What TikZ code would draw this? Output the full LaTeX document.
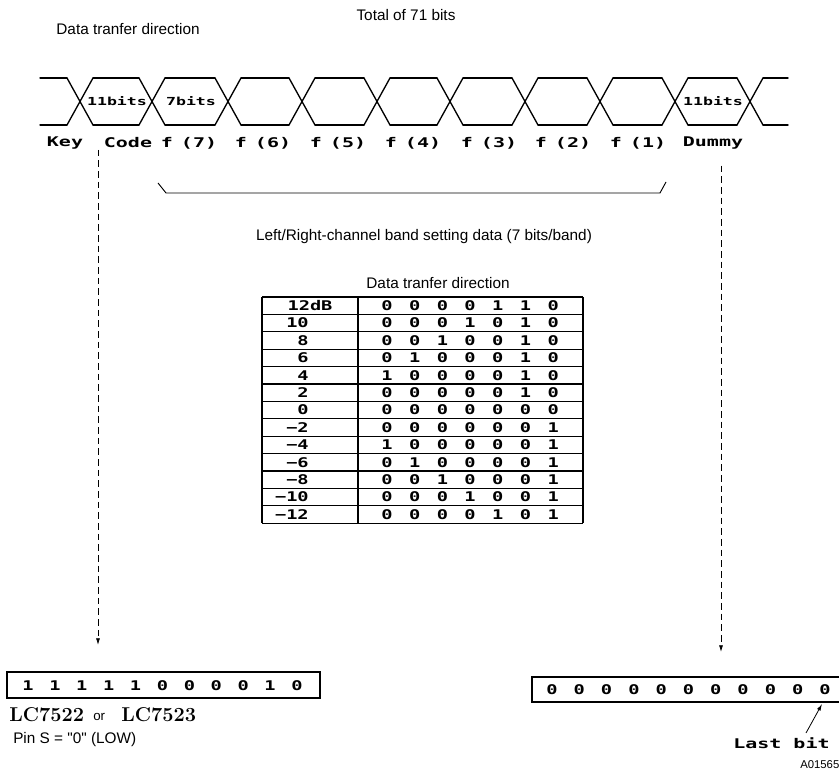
\documentclass[tikz,border=0pt]{standalone}
\usepackage{fontspec}
\newfontfamily\arial{Liberation Sans}
\newfontfamily\monow[FakeStretch=1.5]{DejaVu Sans Mono}
\newfontfamily\monon[FakeStretch=1.4]{DejaVu Sans Mono}
\usetikzlibrary{arrows.meta}
\tikzset{
  wave/.style={line width=1pt, line cap=round},
  lbl/.style={font=\arial\fontsize{11.5}{13}\selectfont, inner sep=0pt},
  monolbl/.style={font=\monow\bfseries\fontsize{10}{12}\selectfont, inner sep=0pt},
  wavelbl/.style={font=\monow\bfseries\fontsize{8.3}{10}\selectfont, inner sep=0pt},
  bitlbl/.style={font=\monon\bfseries\fontsize{10}{12}\selectfont, inner sep=0pt},
  grid/.style={line width=0.9pt},
  dashedarrow/.style={line width=0.6pt, dash pattern=on 5pt off 3pt, -{Latex[length=5pt,width=3pt]}},
}
\begin{document}
\begin{tikzpicture}[x=0.75pt,y=-0.75pt]
\clip (0,0) rectangle (839,773);
\fill[white] (0,0) rectangle (839,773);

% titles
\node[lbl] (total) at (406,15) {Total of 71 bits};
\node[lbl] (dir1) at (128,29) {Data tranfer direction};

% waveform
\foreach \c in {80,152,228,302,377,450,525,600,675,750}{
  \draw[wave] (\c-13,78) -- (\c+13,125);
  \draw[wave] (\c-13,125) -- (\c+13,78);
}
\foreach \a/\b in {80/152,152/228,228/302,302/377,377/450,450/525,525/600,600/675,675/750}{
  \draw[wave] (\a+13,78) -- (\b-13,78);
  \draw[wave] (\a+13,125) -- (\b-13,125);
}
\draw[wave] (40,78) -- (67,78);
\draw[wave] (40,125) -- (67,125);
\draw[wave] (763,78) -- (788,78);
\draw[wave] (763,125) -- (788,125);

\node[wavelbl] (w1) at (117,101) {11bits};
\node[wavelbl] (w2) at (191,101) {7bits};
\node[wavelbl] (w3) at (713,101) {11bits};

% labels under waveform
\newcommand{\fl}[1]{f\kern-0.3em\ (#1)}
\node[monolbl] (key) at (65,143) {Key};
\node[monolbl] (code) at (128,143) {Code};
\node[monolbl] (f7) at (189,143) {\fl{7}};
\node[monolbl] (f6) at (263,143) {\fl{6}};
\node[monolbl] (f5) at (338,143) {\fl{5}};
\node[monolbl] (f4) at (413,143) {\fl{4}};
\node[monolbl] (f3) at (489,143) {\fl{3}};
\node[monolbl] (f2) at (563,143) {\fl{2}};
\node[monolbl] (f1) at (638,143) {\fl{1}};
\node[monolbl] (dummy) at (713,143) {Dummy};

% bracket
\draw[line width=0.7pt] (158,183) -- (166,193) -- (660,193) -- (666,182);
\node[lbl] (band) at (424,237) {Left/Right-channel band setting data (7 bits/band)};

% table
\node[lbl] (dir2) at (438,283) {Data tranfer direction};
\foreach \i in {0,...,13}{
  \draw[grid] (262,297+17.4*\i) -- (583,297+17.4*\i);
}
\draw[grid] (262,297) -- (262,523.2);
\draw[grid] (358,297) -- (358,523.2);
\draw[grid] (583,297) -- (583,523.2);

\node[bitlbl] (lab0) at (310,305.7) {12dB};
\foreach \lab/\bits [count=\r from 0] in {
  {}/{0,0,0,0,1,1,0},
  {10}/{0,0,0,1,0,1,0},
  {8}/{0,0,1,0,0,1,0},
  {6}/{0,1,0,0,0,1,0},
  {4}/{1,0,0,0,0,1,0},
  {2}/{0,0,0,0,0,1,0},
  {0}/{0,0,0,0,0,0,0},
  {−2}/{0,0,0,0,0,0,1},
  {−4}/{1,0,0,0,0,0,1},
  {−6}/{0,1,0,0,0,0,1},
  {−8}/{0,0,1,0,0,0,1},
  {−10}/{0,0,0,1,0,0,1},
  {−12}/{0,0,0,0,1,0,1}}{
  \ifnum\r>0
    \node[bitlbl, anchor=east] (lab\r) at (309,305.7+17.4*\r) {\lab};
  \fi
  \foreach \b [count=\c from 0] in \bits {
    \node[bitlbl] (t\r c\c) at (387+27.7*\c,305.7+17.4*\r) {\b};
  }
}

% dashed arrows
\coordinate (la) at (98,645);
\coordinate (ra) at (721,652);
\draw[dashedarrow] ([yshift=-1pt]code.south -| la) -- (la);
\draw[dashedarrow] ([yshift=-12pt]dummy.south -| ra) -- (ra);

% bottom left box
\draw[grid] (7,672) rectangle (320,698);
\foreach \b [count=\c from 0] in {1,1,1,1,1,0,0,0,0,1,0}{
  \node[bitlbl] (lb\c) at (28+26.9*\c,686) {\b};
}
\node[font=\bfseries\fontsize{15}{17}\selectfont, inner sep=0pt, anchor=west] (lc1) at (9,715) {LC7522};
\node[font=\arial\fontsize{10}{12}\selectfont, inner sep=0pt, anchor=west] (or) at (93,717) {or};
\node[font=\bfseries\fontsize{15}{17}\selectfont, inner sep=0pt, anchor=west] (lc2) at (121,715) {LC7523};
\node[lbl, anchor=west] (pin) at (13,740) {Pin S = "0" (LOW)};

% bottom right box
\draw[grid] (532,677) rectangle (880,702);
\foreach \c in {0,...,10}{
  \node[bitlbl] (rb\c) at (552+27.3*\c,690) {0};
}
\coordinate (lastpt) at (822,704);
\node[monolbl, anchor=west] (last) at (733,743) {Last bit};
\draw[line width=0.6pt, -{Latex[length=5pt,width=3pt]}] (806,733) -- (lastpt);
\node[font=\arial\fontsize{8.5}{10}\selectfont, inner sep=0pt, anchor=west] (code2) at (800,765) {A01565};
\end{tikzpicture}
\end{document}
